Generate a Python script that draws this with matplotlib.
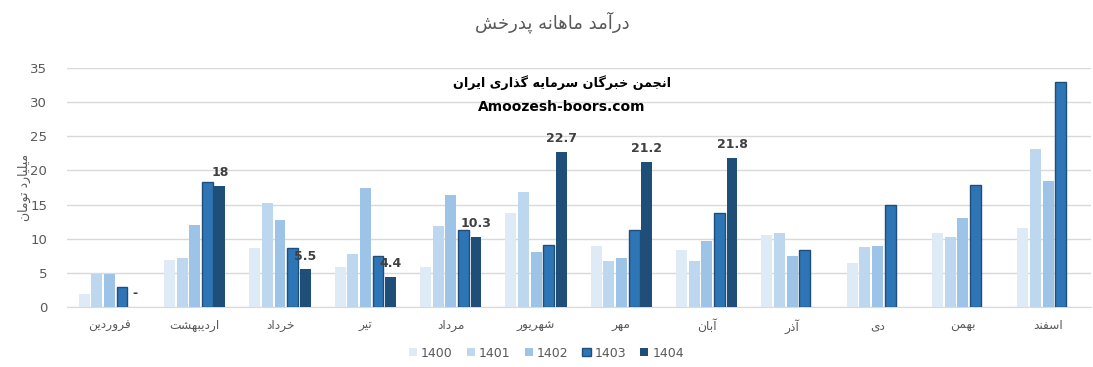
import numpy as np
import matplotlib
matplotlib.use('Agg')
import matplotlib.pyplot as plt

# --- data (billion toman) ---
months = ['فروردین', 'اردیبهشت', 'خرداد', 'تیر', 'مرداد', 'شهریور',
          'مهر', 'آبان', 'آذر', 'دی', 'بهمن', 'اسفند']
years = ['1400', '1401', '1402', '1403', '1404']
v1400 = [1.9, 6.9, 8.7, 5.9, 5.9, 13.8, 9.0, 8.4, 10.5, 6.5, 10.8, 11.6]
v1401 = [4.9, 7.2, 15.3, 7.7, 11.9, 16.9, 6.8, 6.8, 10.8, 8.8, 10.3, 23.1]
v1402 = [4.9, 12.0, 12.7, 17.4, 16.4, 8.1, 7.2, 9.6, 7.5, 9.0, 13.0, 18.5]
v1403 = [3.0, 18.3, 8.7, 7.5, 11.3, 9.1, 11.3, 13.8, 8.4, 15.0, 17.8, 32.9]
v1404 = [0, 17.7, 5.5, 4.4, 10.3, 22.7, 21.2, 21.8,
         np.nan, np.nan, np.nan, np.nan]
labels_1404 = ['-', '18', '5.5', '4.4', '10.3', '22.7', '21.2', '21.8', '', '', '', '']

title = 'درآمد ماهانه پدرخش'
ylab = 'میلیارد تومان'
wm1 = 'انجمن خبرگان سرمایه گذاری ایران'
wm2 = 'Amoozesh-boors.com'

# --- minimal arabic/persian shaping (matplotlib has no shaper) ---
dual = {'ب': 0xFE8F, 'ت': 0xFE95, 'ث': 0xFE99, 'ج': 0xFE9D, 'ح': 0xFEA1,
        'خ': 0xFEA5, 'س': 0xFEB1, 'ش': 0xFEB5, 'ص': 0xFEB9, 'ض': 0xFEBD,
        'ط': 0xFEC1, 'ظ': 0xFEC5, 'ع': 0xFEC9, 'غ': 0xFECD, 'ف': 0xFED1,
        'ق': 0xFED5, 'ل': 0xFEDD, 'م': 0xFEE1, 'ن': 0xFEE5, 'ه': 0xFEE9,
        'ي': 0xFEF1, '\u06cc': 0xFBFC, 'پ': 0xFB56, 'چ': 0xFB7A,
        '\u06a9': 0xFB8E, 'گ': 0xFB92}
right = {'ا': 0xFE8D, 'آ': 0xFE81, 'د': 0xFEA9, 'ذ': 0xFEAB, 'ر': 0xFEAD,
         'ز': 0xFEAF, 'و': 0xFEED, 'ژ': 0xFB8A}


def shape(text):
    out = []
    for i, ch in enumerate(text):
        prev = text[i - 1] if i > 0 else ''
        nxt = text[i + 1] if i + 1 < len(text) else ''
        jp = prev in dual
        if ch in dual:
            jn = nxt in dual or nxt in right
            k = 3 if (jp and jn) else 1 if jp else 2 if jn else 0
            out.append(chr(dual[ch] + k))
        elif ch in right:
            out.append(chr(right[ch] + (1 if jp else 0)))
        else:
            out.append(ch)
    return ''.join(out)[::-1]


plt.rcParams['font.family'] = ['DejaVu Sans']
gray = '#595959'
colors = ['#DEEBF7', '#BDD7EE', '#9DC3E6', '#2E75B6', '#1F4E79']
edges = ['none', 'none', 'none', '#1F4E79', 'none']
series = [v1400, v1401, v1402, v1403, v1404]

fig = plt.figure(figsize=(10.93, 3.67), dpi=100)
ax = fig.add_axes([0.061, 0.1635, 0.937, 0.651])

x = np.arange(len(months))
slot = 0.148
for i, (vals, c) in enumerate(zip(series, colors)):
    bars = ax.bar(x + (i - 2) * slot, vals, width=0.128, color=c,
                  edgecolor=edges[i], linewidth=1.0, label=years[i], zorder=3)
    if i == 4:
        ax.bar_label(bars, labels=labels_1404, padding=5, fontsize=9,
                     fontweight='bold', color='#404040')

ax.set_ylim(0, 35)
ax.set_xlim(-0.5, len(months) - 0.5)
ax.set_yticks(range(0, 36, 5))
ax.yaxis.grid(True, color='#D9D9D9', linewidth=1)
ax.set_axisbelow(True)
for s in ['top', 'right', 'left']:
    ax.spines[s].set_visible(False)
ax.spines['bottom'].set_color('#D9D9D9')
ax.tick_params(axis='both', length=0, colors=gray, labelsize=9.5)
ax.tick_params(axis='y', pad=14)
ax.set_xticks(x)
ax.set_xticklabels([shape(m) for m in months], fontsize=8.8, color=gray)
ax.tick_params(axis='x', pad=9)

fig.text(0.022, 0.49, shape(ylab), rotation=90, ha='center', va='center',
         fontsize=9, color=gray)
fig.text(0.505, 0.94, shape(title), ha='center', va='center',
         fontsize=13, color=gray)
fig.text(0.514, 0.775, shape(wm1), ha='center', va='center',
         fontsize=9.2, fontweight='bold', color='black')
fig.text(0.514, 0.708, wm2, ha='center', va='center',
         fontsize=10, fontweight='bold', color='black')

fig.legend(loc='center', bbox_to_anchor=(0.5, 0.038), ncol=5, frameon=False,
           fontsize=9, labelcolor=gray, handlelength=0.65, handleheight=0.65,
           handletextpad=0.35, columnspacing=1.1)

fig.savefig('out.png', dpi=100)
